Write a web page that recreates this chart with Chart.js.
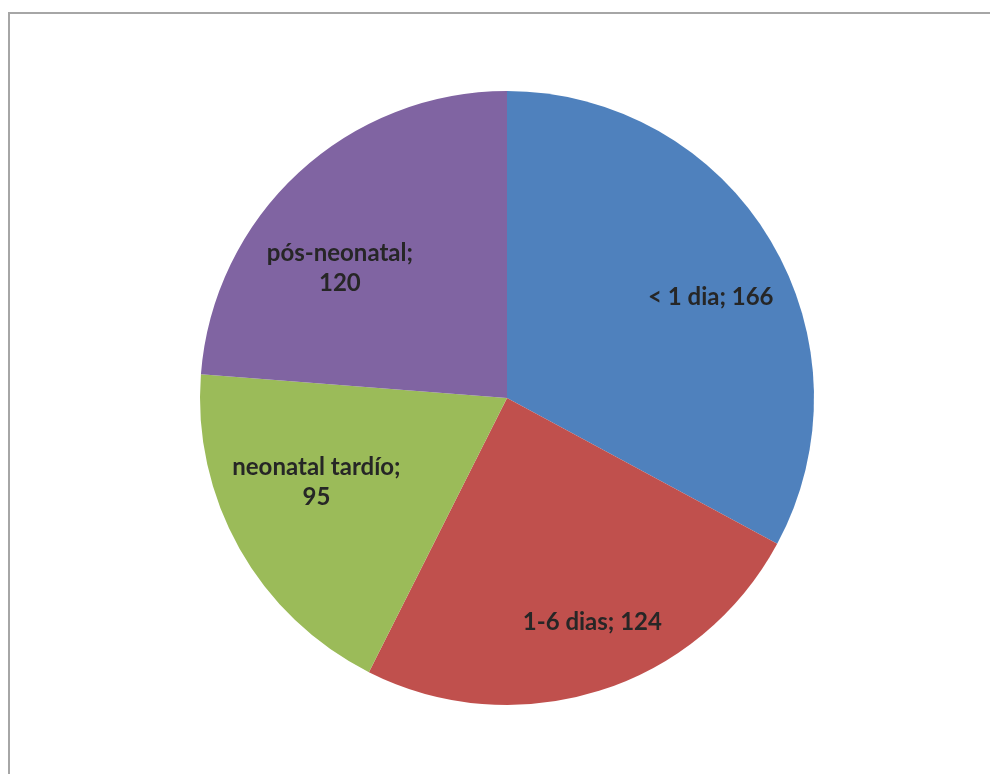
<!DOCTYPE html>
<html>
<head>
<meta charset="utf-8">
<script src="https://cdn.jsdelivr.net/npm/chart.js@4.4.0/dist/chart.umd.min.js"></script>
<style>
  html, body { margin: 0; padding: 0; background: #fff; overflow: hidden; }
  #frame { position: absolute; left: 8px; top: 12px; width: 1000px; height: 800px; border: 2px solid #a6a6a6; }
  #wrap { position: absolute; left: 0; top: 0; width: 990px; height: 774px; }
</style>
</head>
<body>
<div id="frame"></div>
<div id="wrap"><canvas id="pie"></canvas></div>
<script>
// chart data
const categories = ['< 1 dia', '1-6 dias', 'neonatal tardío', 'pós-neonatal'];
const values = [166, 124, 95, 120];
const colors = ['#4f81bd', '#c0504d', '#9bbb59', '#8064a2'];

// draws "category; value" inside each slice, wrapping long ones after the ";"
const sliceLabels = {
    id: 'sliceLabels',
    afterDatasetsDraw(chart, args, opts) {
        const ctx = chart.ctx;
        const meta = chart.getDatasetMeta(0);
        ctx.save();
        ctx.font = 'bold 24px Lato';
        ctx.fillStyle = '#262626';
        ctx.textAlign = 'center';
        ctx.textBaseline = 'middle';
        meta.data.forEach((arc, i) => {
            const mid = (arc.startAngle + arc.endAngle) / 2;
            const r = arc.outerRadius * 0.72;
            const nudge = opts.nudge[i] || [0, 0];
            const x = arc.x + Math.cos(mid) * r + nudge[0];
            const y = arc.y + Math.sin(mid) * r + nudge[1];
            const text = categories[i] + '; ' + values[i];
            let lines = [text];
            if (ctx.measureText(text).width > 170) {
                lines = [categories[i] + ';', String(values[i])];
            }
            const lh = 30;
            lines.forEach((line, k) => {
                ctx.fillText(line, x, y + (k - (lines.length - 1) / 2) * lh);
            });
        });
        ctx.restore();
    }
};

const ctx = document.getElementById('pie').getContext('2d');
const chart = new Chart(ctx, {
    type: 'pie',
    data: {
        labels: categories,
        datasets: [{
            data: values,
            backgroundColor: colors,
            borderWidth: 0
        }]
    },
    options: {
        responsive: true,
        maintainAspectRatio: false,
        animation: false,
        layout: { padding: { left: 200, right: 176, top: 91, bottom: 69 } },
        plugins: {
            legend: { display: false },
            tooltip: { enabled: false },
            sliceLabels: { nudge: [[14, 13], [19, 13], [2, -24], [-17, 33]] }
        }
    },
    plugins: [sliceLabels]
});
</script>
</body>
</html>
